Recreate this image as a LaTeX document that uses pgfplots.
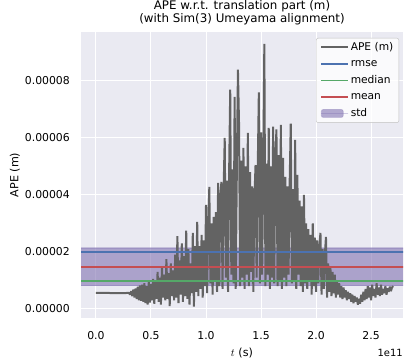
\documentclass[border=0pt]{standalone}
\usepackage{fontspec}
\setmainfont{DejaVu Sans}
\usepackage{pgfplots}
\pgfplotsset{compat=1.18}
\definecolor{bg}{HTML}{EAEAF2}
\definecolor{apegray}{HTML}{636363}
\definecolor{rmseblue}{HTML}{4C72B0}
\definecolor{medgreen}{HTML}{55A868}
\definecolor{meanred}{HTML}{C44E52}
\definecolor{stdpurple}{HTML}{8172B2}
\pgfplotsset{
  lineleg/.style={legend image code/.code={\draw[##1] (0bp,0bp) -- (22bp,0bp); \path (0bp,0bp) -- (27bp,0bp);}},
  arealeg/.style={legend image code/.code={\filldraw[##1] (0bp,-4bp) rectangle (22bp,4bp); \path (0bp,0bp) -- (27bp,0bp);}},
}
\begin{document}
\begin{tikzpicture}
\useasboundingbox (-81bp,-42bp) rectangle (329bp,318bp);
\begin{axis}[
  name=ax,
  at={(0,0)}, anchor=south west,
  scale only axis, width=322bp, height=286bp,
  xmin=-0.136, xmax=2.79, ymin=-0.32, ymax=9.72,
  axis background/.style={fill=bg},
  axis line style={draw=none},
  grid=major, major grid style={white, line width=1bp},
  major tick length=0pt,
  xtick={0,0.5,1,1.5,2,2.5}, xticklabels={0.0,0.5,1.0,1.5,2.0,2.5},
  ytick={0,2,4,6,8}, yticklabels={0.00000,0.00002,0.00004,0.00006,0.00008},
  xticklabel style={anchor=base, yshift=-21bp, font=\fontsize{10.9}{12}\selectfont},
  yticklabel style={anchor=east, inner sep=0pt, xshift=-11bp, font=\fontsize{10.9}{12}\selectfont},
  title={APE w.r.t. translation part (m)\\(with Sim(3) Umeyama alignment)},
  title style={at={(axis description cs:0.5,1)}, anchor=south, yshift=-2.8bp, align=center, font=\fontsize{11.9}{13.2}\selectfont},
  xlabel={$t$ (s)},
  xlabel style={at={(axis description cs:0.5,-0.133)}, anchor=base, font=\fontsize{11.2}{12}\selectfont},
  ylabel={APE (m)},
  ylabel style={at={(axis description cs:-0.205,0.5)}, anchor=center, font=\fontsize{11.2}{12}\selectfont},
  legend style={at={(rel axis cs:0.9876,0.979)}, anchor=north east, draw=lightgray, fill=white, fill opacity=0.8, text opacity=1, rounded corners=2pt, font=\fontsize{10.7}{12}\selectfont, row sep=3bp, inner xsep=4bp, inner ysep=2.5bp, nodes={inner sep=1.5bp, text height=8bp, text depth=2.5bp}},
  legend cell align=left,
]
\addplot[forget plot, draw=stdpurple, draw opacity=0.35, line width=1.2bp, fill=stdpurple, fill opacity=0.6] coordinates {(-1,0.81) (4,0.81) (4,2.14) (-1,2.14)} -- cycle;
\addplot[apegray, line width=2bp, line join=bevel, lineleg] coordinates {
(0.00,0.56) (0.10,0.56) (0.20,0.55) (0.30,0.56)
(0.31,0.50) (0.32,0.62) (0.33,0.45) (0.34,0.68) (0.35,0.40) (0.36,0.72) (0.37,0.35) (0.38,0.78) (0.39,0.30) (0.40,0.82)
(0.41,0.28) (0.42,0.85) (0.43,0.25) (0.44,0.90) (0.45,0.20) (0.46,0.80) (0.47,0.15) (0.48,0.95) (0.49,0.22) (0.50,0.88)
(0.51,0.30) (0.52,1.05) (0.53,0.18) (0.54,0.95) (0.55,0.35) (0.56,1.30) (0.57,0.25) (0.58,1.10) (0.59,0.15) (0.60,1.45)
(0.61,0.40) (0.62,1.20) (0.63,0.30) (0.64,1.75) (0.65,0.35) (0.66,1.25) (0.67,0.10) (0.68,1.60) (0.69,0.45) (0.70,1.35)
(0.71,0.30) (0.72,1.90) (0.73,0.40) (0.74,2.55) (0.75,0.20) (0.76,1.70) (0.77,0.50) (0.78,2.30) (0.79,0.25) (0.80,1.85)
(0.81,0.45) (0.82,2.75) (0.83,0.35) (0.84,2.10) (0.85,0.15) (0.86,1.60) (0.87,0.55) (0.88,2.67) (0.89,0.08) (0.90,2.20)
(0.91,0.60) (0.92,3.05) (0.93,0.45) (0.94,2.20) (0.95,0.70) (0.96,2.60) (0.97,0.40) (0.98,2.40) (0.99,0.80) (1.00,3.65)
(1.01,0.55) (1.02,2.90) (1.03,4.28) (1.04,0.90) (1.05,3.00) (1.06,0.50) (1.07,3.23) (1.08,1.00) (1.09,3.40) (1.10,0.60)
(1.11,4.42) (1.12,0.80) (1.13,4.00) (1.14,4.46) (1.15,0.70) (1.16,4.20) (1.17,6.00) (1.18,1.10) (1.19,4.50) (1.20,0.60)
(1.21,4.80) (1.22,7.70) (1.23,1.20) (1.24,4.90) (1.25,0.90) (1.26,7.44) (1.27,0.70) (1.28,4.80) (1.29,8.40) (1.30,6.50)
(1.31,0.80) (1.32,5.20) (1.33,1.10) (1.34,5.65) (1.35,0.70) (1.36,5.00) (1.37,1.20) (1.38,6.18) (1.39,0.80) (1.40,4.80)
(1.41,1.30) (1.42,4.30) (1.43,0.60) (1.44,3.90) (1.45,5.05) (1.46,1.10) (1.47,4.90) (1.48,7.60) (1.49,0.90) (1.50,6.20)
(1.51,1.20) (1.52,5.00) (1.53,9.30) (1.54,0.80) (1.55,5.10) (1.56,1.20) (1.57,6.35) (1.58,0.70) (1.59,5.00) (1.60,1.10)
(1.61,6.40) (1.62,0.90) (1.63,5.30) (1.64,6.30) (1.65,0.80) (1.66,5.40) (1.67,1.00) (1.68,6.46) (1.69,0.70) (1.70,5.30)
(1.71,1.10) (1.72,4.63) (1.73,0.80) (1.74,4.30) (1.75,1.20) (1.76,4.40) (1.77,6.50) (1.78,0.90) (1.79,4.20) (1.80,1.00)
(1.81,5.93) (1.82,0.70) (1.83,4.70) (1.84,1.20) (1.85,3.80) (1.86,0.80) (1.87,3.60) (1.88,0.60) (1.89,4.00) (1.90,0.90)
(1.91,3.00) (1.92,0.70) (1.93,2.80) (1.94,1.00) (1.95,2.60) (1.96,0.50) (1.97,3.00) (1.98,0.80) (1.99,2.50) (2.00,0.60)
(2.01,2.40) (2.02,0.90) (2.03,2.20) (2.04,2.67) (2.05,0.50) (2.06,2.10) (2.07,0.70) (2.08,1.90) (2.09,2.53) (2.10,0.40)
(2.11,1.60) (2.12,0.60) (2.13,1.50) (2.14,0.45) (2.15,1.30) (2.16,0.55) (2.17,1.20) (2.18,0.40) (2.19,1.00) (2.20,0.50)
(2.21,0.90) (2.22,0.40) (2.23,0.80) (2.24,0.35) (2.25,0.75) (2.26,0.40) (2.27,0.65) (2.28,0.30) (2.29,0.60) (2.30,0.35)
(2.31,0.55) (2.32,0.25) (2.33,0.50) (2.34,0.20) (2.35,0.45) (2.36,0.25) (2.37,0.40) (2.38,0.15) (2.39,0.35) (2.40,0.18)
(2.41,0.50) (2.42,0.25) (2.43,0.60) (2.44,0.30) (2.45,0.70) (2.46,0.35) (2.47,0.80) (2.48,0.40) (2.49,0.75) (2.50,0.30)
(2.51,0.85) (2.52,0.45) (2.53,0.70) (2.54,0.40) (2.55,0.90) (2.56,0.50) (2.57,0.75) (2.58,0.45) (2.59,0.85) (2.60,0.50)
(2.61,0.70) (2.62,0.55) (2.63,0.80) (2.64,0.50) (2.65,0.72) (2.66,0.60) (2.67,0.78) (2.68,0.62) (2.69,0.75) (2.70,0.80)
};
\addlegendentry{APE (m)}
\addplot[rmseblue, line width=1.8bp, lineleg] coordinates {(-1,2.00) (4,2.00)};
\addlegendentry{rmse}
\addplot[medgreen, line width=1.8bp, lineleg] coordinates {(-1,0.98) (4,0.98)};
\addlegendentry{median}
\addplot[meanred, line width=1.8bp, lineleg] coordinates {(-1,1.47) (4,1.47)};
\addlegendentry{mean}
\addlegendimage{arealeg, draw=stdpurple, draw opacity=0.3, line width=0.8bp, fill=stdpurple, fill opacity=0.6}
\addlegendentry{std}
\end{axis}
\node[anchor=base east, inner sep=0pt] at ([yshift=-38bp]ax.south east) {\fontsize{10}{12}\selectfont 1e11};
\end{tikzpicture}
\end{document}
